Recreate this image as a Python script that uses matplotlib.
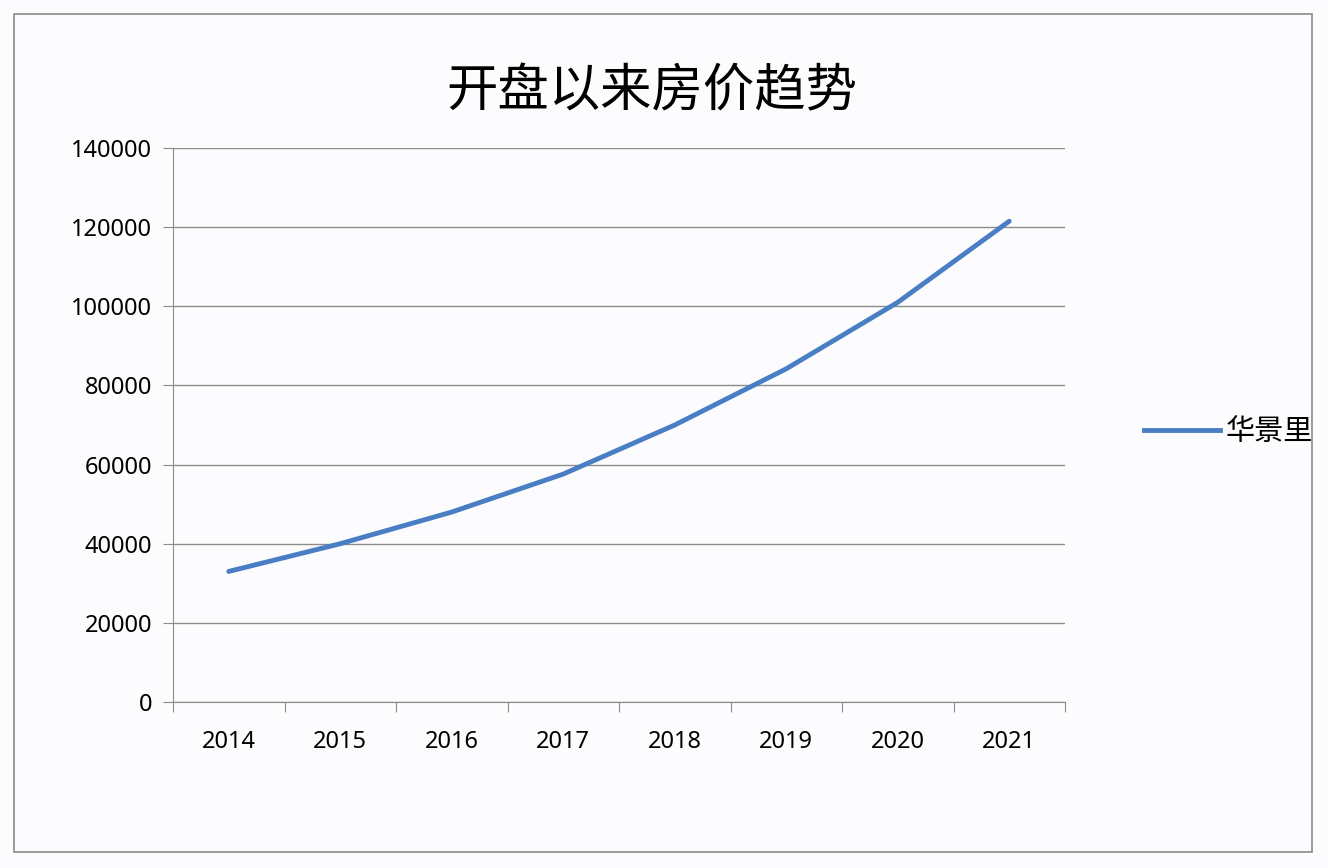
import matplotlib
matplotlib.use("Agg")
import matplotlib.pyplot as plt
from matplotlib.patches import Rectangle
from matplotlib.lines import Line2D

plt.rcParams['font.family'] = ['Noto Sans CJK SC', 'DejaVu Sans']

years = ['2014', '2015', '2016', '2017', '2018', '2019', '2020', '2021']
prices = [33000, 40000, 48000, 57600, 70000, 84200, 101000, 121500]
series_name = '华景里'
title = '开盘以来房价趋势'

fig = plt.figure(figsize=(13.28, 8.68), dpi=100)
fig.patch.set_facecolor('#fcfcfe')
fig.add_artist(Rectangle((14/1328, 1-852/868), (1312-14)/1328, (852-14)/868,
                         transform=fig.transFigure, fill=False, edgecolor='#8a8a8a', lw=1.2))
ax = fig.add_axes([173/1328, 1-702/868, (1065-173)/1328, (702-148)/868])
ax.set_facecolor('none')
x = list(range(len(years)))
ax.plot(x, prices, color='#4a7ec4', lw=3.5, solid_capstyle='round')
ax.set_xlim(-0.5, len(years)-0.5)
ax.set_ylim(0, 140000)
ax.set_yticks(range(0, 140001, 20000))
ax.grid(axis='y', color='#8c8c8c', lw=1)
ax.set_axisbelow(True)
ax.set_xticks([i-0.5 for i in range(len(years)+1)])
ax.set_xticklabels([])
ax.set_xticks(x, minor=True)
ax.set_xticklabels(years, minor=True)
ax.tick_params(axis='x', which='major', length=7, color='#8c8c8c')
ax.tick_params(axis='x', which='minor', length=0, pad=20, labelsize=17)
ax.tick_params(axis='y', length=7, color='#8c8c8c', labelsize=17, pad=8)
for lbl in ax.get_xticklabels(minor=True) + ax.get_yticklabels():
    lbl.set_family('Noto Sans')
for s in ['top', 'right']:
    ax.spines[s].set_visible(False)
ax.spines['left'].set_color('#8c8c8c')
ax.spines['bottom'].set_color('#8c8c8c')
fig.text(652/1328, 1-92/868, title, ha='center', va='center', fontsize=37)
fig.legend(handles=[Line2D([], [], color='#4a7ec4', lw=3.5)], labels=[series_name],
           loc='center left', bbox_to_anchor=(1118/1328, 1-432/868), frameon=False,
           fontsize=21, handlelength=2.6, handletextpad=0.2)
fig.savefig('out.png', dpi=100, facecolor=fig.get_facecolor())
